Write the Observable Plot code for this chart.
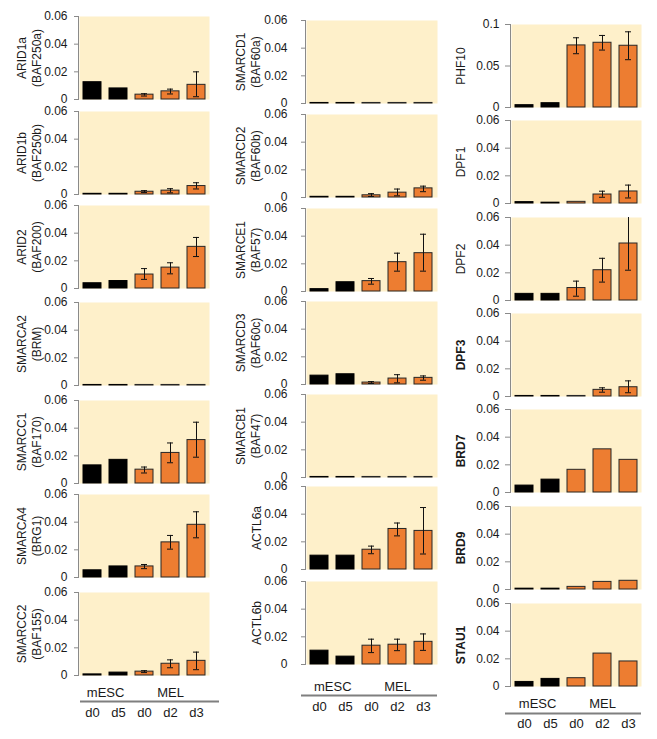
<!DOCTYPE html>
<html><head><meta charset="utf-8">
<script src="https://cdn.jsdelivr.net/npm/d3@7"></script>
<script src="https://cdn.jsdelivr.net/npm/@observablehq/plot@0.6"></script>
<style>
body{margin:0;background:#fff;}
#chart{position:relative;width:657px;height:739px;overflow:hidden;}
</style></head><body><div id="chart"></div>
<script>
// ---- data ----
const categories = ["mESC d0","mESC d5","MEL d0","MEL d2","MEL d3"];
const dayLabels = ["d0","d5","d0","d2","d3"];
const cellTypes = ["mESC","mESC","MEL","MEL","MEL"];
const groupLabels = ["mESC","MEL"];
const ticks06 = [0, 0.02, 0.04, 0.06];
const ticks10 = [0, 0.05, 0.1];

const col1Genes = ["ARID1a","ARID1b","ARID2","SMARCA2","SMARCC1","SMARCA4","SMARCC2"];
const col1Labels = ["ARID1a\n(BAF250a)","ARID1b\n(BAF250b)","ARID2\n(BAF200)","SMARCA2\n(BRM)","SMARCC1\n(BAF170)","SMARCA4\n(BRG1)","SMARCC2\n(BAF155)"];
const col1Values = [
  [0.0125, 0.008, 0.0035, 0.0059, 0.0106],
  [0.0005, 0.0005, 0.002, 0.0028, 0.0061],
  [0.0038, 0.0054, 0.0101, 0.0151, 0.0301],
  [0.0004, 0.0004, 0.0004, 0.0004, 0.0004],
  [0.0131, 0.0171, 0.010, 0.0221, 0.0314],
  [0.0052, 0.008, 0.008, 0.0254, 0.0381],
  [0.0008, 0.0021, 0.0028, 0.0085, 0.0106]
];
const col1ErrLow = [
  [null, null, 0.0025, 0.0040, 0.002],
  [null, null, 0.0014, 0.0012, 0.004],
  [null, null, 0.0066, 0.0106, 0.0231],
  [null, null, null, null, null],
  [null, null, 0.0076, 0.015, 0.019],
  [null, null, 0.0064, 0.0205, 0.0287],
  [null, null, 0.0021, 0.0056, 0.0042]
];
const col1ErrHigh = [
  [null, null, 0.0042, 0.0075, 0.020],
  [null, null, 0.0028, 0.0042, 0.0085],
  [null, null, 0.0144, 0.0186, 0.0369],
  [null, null, null, null, null],
  [null, null, 0.0119, 0.0293, 0.0443],
  [null, null, 0.0094, 0.0304, 0.0475],
  [null, null, 0.0035, 0.0113, 0.0169]
];

const col2Genes = ["SMARCD1","SMARCD2","SMARCE1","SMARCD3","SMARCB1","ACTL6a","ACTL6b"];
const col2Labels = ["SMARCD1\n(BAF60a)","SMARCD2\n(BAF60b)","SMARCE1\n(BAF57)","SMARCD3\n(BAF60c)","SMARCB1\n(BAF47)","ACTL6a","ACTL6b"];
const col2Values = [
  [0.0004, 0.0004, 0.0004, 0.0004, 0.0004],
  [0.0005, 0.0005, 0.0016, 0.0035, 0.0066],
  [0.0017, 0.0067, 0.0075, 0.0212, 0.0277],
  [0.0064, 0.0074, 0.0014, 0.0043, 0.0048],
  [0.0004, 0.0004, 0.0004, 0.0004, 0.0004],
  [0.010, 0.010, 0.0143, 0.0293, 0.0279],
  [0.010, 0.0057, 0.0136, 0.0143, 0.0164]
];
const col2ErrLow = [
  [null, null, null, null, null],
  [null, null, 0.0007, 0.0012, 0.0042],
  [null, null, 0.0053, 0.0147, 0.0147],
  [null, null, 0.0007, 0.0012, 0.0031],
  [null, null, null, null, null],
  [null, null, 0.0114, 0.0243, 0.0112],
  [null, null, 0.0086, 0.010, 0.0102]
];
const col2ErrHigh = [
  [null, null, null, null, null],
  [null, null, 0.0028, 0.0061, 0.0082],
  [null, null, 0.0094, 0.0277, 0.0414],
  [null, null, 0.0021, 0.0071, 0.0062],
  [null, null, null, null, null],
  [null, null, 0.0169, 0.0336, 0.0448],
  [null, null, 0.0183, 0.0183, 0.0221]
];

const col3Genes = ["PHF10","DPF1","DPF2","DPF3","BRD7","BRD9","STAU1"];
const col3Labels = ["PHF10","DPF1","DPF2","DPF3","BRD7","BRD9","STAU1"];
const col3Bold = [false, false, false, true, true, true, true];
const col3Values = [
  [0.0028, 0.0052, 0.0748, 0.078, 0.0744],
  [0.001, 0.0006, 0.0012, 0.0065, 0.0087],
  [0.0048, 0.0048, 0.009, 0.0219, 0.0412],
  [0.0004, 0.0004, 0.0004, 0.0048, 0.0067],
  [0.005, 0.0093, 0.0164, 0.0312, 0.0236],
  [0.0006, 0.0006, 0.0019, 0.0055, 0.0063],
  [0.0033, 0.0055, 0.006, 0.0238, 0.0181]
];
const col3ErrLow = [
  [null, null, 0.0648, 0.0692, 0.0576],
  [null, null, null, 0.0045, 0.004],
  [null, null, 0.0031, 0.0133, 0.0219],
  [null, null, null, 0.0031, 0.0027],
  [null, null, null, null, null],
  [null, null, null, null, null],
  [null, null, null, null, null]
];
const col3ErrHigh = [
  [null, null, 0.084, 0.0868, 0.0912],
  [null, null, null, 0.0089, 0.0133],
  [null, null, 0.014, 0.0305, 0.063],
  [null, null, null, 0.0063, 0.0113],
  [null, null, null, null, null],
  [null, null, null, null, null],
  [null, null, null, null, null]
];

// ---- style ----
const BG = "#FEF0CA", ORANGE = "#ED7D31", BLACK = "#000", EDGE = "#262626";
const AXIS = "#8a8a8a", TEXT = "#1a1a1a";
const FONT = "Arial, 'Liberation Sans', sans-serif";
const PANEL_H = 83;

const columns = [
  {genes: col1Genes, labels: col1Labels, values: col1Values, lo: col1ErrLow, hi: col1ErrHigh,
   left: 0, width: 220, ml: 78, mr: 11, zeros: [99,194,288,385,483,577,675],
   tickSize: 4, tickPadding: 7, dx2: -50, dx1: -50, bottom: [17, 26, 37], insets: [2, -10]},
  {genes: col2Genes, labels: col2Labels, values: col2Values, lo: col2ErrLow, hi: col2ErrHigh,
   left: 220, width: 220, ml: 85, mr: 3, zeros: [103,197,291,384,477,569,664],
   tickSize: 4, tickPadding: 14, dx2: -58, dx1: -49, bottom: [22, 31, 42], insets: [-4, 0]},
  {genes: col3Genes, labels: col3Labels, values: col3Values, lo: col3ErrLow, hi: col3ErrHigh, bold: col3Bold,
   left: 437, width: 220, ml: 73, mr: 16, zeros: [107,203,300,396,492,589,686],
   tickSize: 5, tickPadding: 6, dx2: -50, dx1: -50, bottom: [17, 27, 37], insets: [-5, 0]}
];

const chart = document.getElementById("chart");

columns.forEach((c) => {
  c.genes.forEach((gene, i) => {
    const isLast = i === c.genes.length - 1;
    const mt = 8, mb = isLast ? 52 : 8;
    const maxV = gene === "PHF10" ? 0.1 : 0.06;
    const ticks = gene === "PHF10" ? ticks10 : ticks06;
    const rows = categories.map((k, j) => ({k, v: c.values[i][j], lo: c.lo[i][j], hi: c.hi[i][j], type: cellTypes[j]}));
    const errRows = rows.filter(d => d.lo != null);
    const label = c.labels[i];
    const twoLine = label.includes("\n");
    const bold = c.bold ? c.bold[i] : false;
    const step = (c.width - c.ml - c.mr) / (5 - 0.32 + 0.3);

    const marks = [
      Plot.frame({fill: BG, stroke: null, insetLeft: 1}),
      Plot.frame({anchor: "left", stroke: AXIS}),
      Plot.axisY({ticks, tickFormat: d => d === 0 ? "0" : String(+d.toFixed(2)) === "0.1" ? "0.1" : d.toFixed(2),
        tickSize: c.tickSize, tickPadding: c.tickPadding, stroke: AXIS, fill: TEXT, fontSize: 12, label: null}),
      Plot.barY(rows.filter(d => d.type === "mESC"), {x: "k", y: "v", fill: BLACK, stroke: BLACK, strokeWidth: 1}),
      Plot.barY(rows.filter(d => d.type === "MEL"), {x: "k", y: "v", fill: ORANGE, stroke: EDGE, strokeWidth: 1}),
      Plot.ruleX(errRows, {x: "k", y1: "lo", y2: "hi", stroke: "#111", strokeWidth: 1, clip: true}),
      Plot.tickY(errRows, {x: "k", y: "lo", stroke: "#111", strokeWidth: 1, insetLeft: 6, insetRight: 6, clip: true}),
      Plot.tickY(errRows, {x: "k", y: "hi", stroke: "#111", strokeWidth: 1, insetLeft: 6, insetRight: 6, clip: true}),
      Plot.text([label], {frameAnchor: "left", text: d => d, rotate: -90, dx: twoLine ? c.dx2 : c.dx1,
        textAnchor: "middle", lineAnchor: "middle", lineHeight: 1.25, fontSize: 12,
        fontWeight: bold ? "bold" : "normal", fill: TEXT})
    ];
    if (isLast) {
      marks.push(
        Plot.text([groupLabels[0]], {x: () => categories[0], text: d => d, frameAnchor: "bottom", dy: c.bottom[0], dx: step / 2,
          lineAnchor: "middle", fontSize: 13, fill: TEXT}),
        Plot.text([groupLabels[1]], {x: () => categories[3], text: d => d, frameAnchor: "bottom", dy: c.bottom[0],
          lineAnchor: "middle", fontSize: 13, fill: TEXT}),
        Plot.ruleY([0], {dy: c.bottom[1], stroke: "#7f7f7f", strokeWidth: 2, insetLeft: c.insets[0], insetRight: c.insets[1]}),
        Plot.text(categories, {x: d => d, text: (d, j) => dayLabels[j], frameAnchor: "bottom", dy: c.bottom[2],
          lineAnchor: "middle", fontSize: 13, fill: TEXT})
      );
    }

    const svg = Plot.plot({
      width: c.width,
      height: PANEL_H + mt + mb,
      marginLeft: c.ml, marginRight: c.mr, marginTop: mt, marginBottom: mb,
      style: `font-family: ${FONT}; font-size: 12px; background: transparent; overflow: visible; color: ${TEXT};`,
      x: {domain: categories, paddingInner: 0.32, paddingOuter: 0.15, axis: null},
      y: {domain: [0, maxV], axis: null},
      marks
    });
    svg.style.position = "absolute";
    svg.style.left = c.left + "px";
    svg.style.top = (c.zeros[i] - PANEL_H - mt) + "px";
    svg.style.maxWidth = "none";
    chart.appendChild(svg);
  });
});
</script>
</body></html>
